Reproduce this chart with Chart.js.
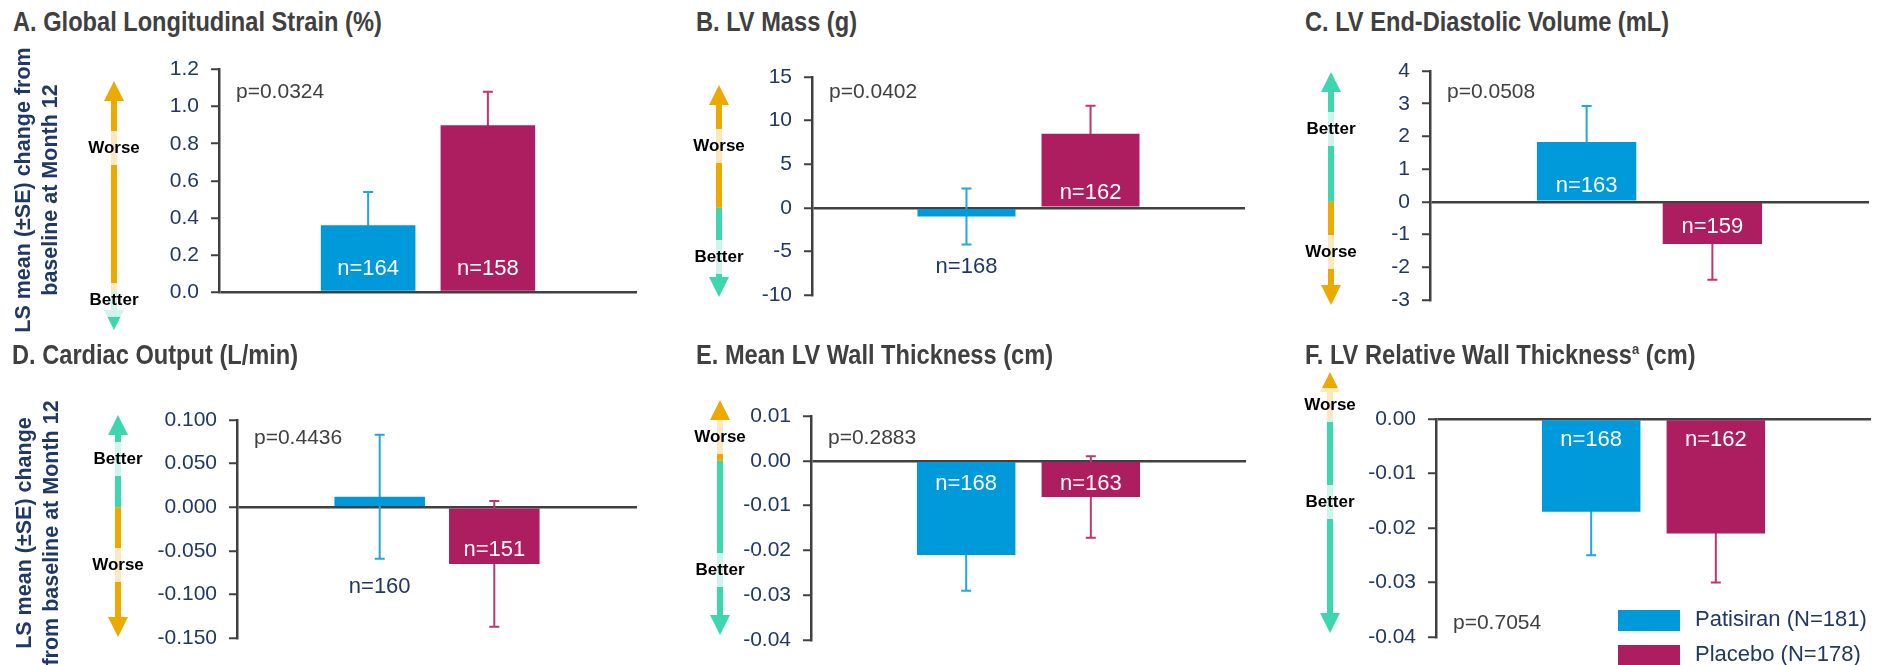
<!DOCTYPE html>
<html>
<head>
<meta charset="utf-8">
<script src="https://cdn.jsdelivr.net/npm/chart.js@4.4.1/dist/chart.umd.min.js"></script>
<style>
  body { margin: 0; background: #fff; }
  #page { position: relative; width: 1883px; height: 665px; overflow: hidden; font-family: "Liberation Sans", Arial, sans-serif; }
  .panel { position: absolute; }
  .title { position: absolute; font-weight: bold; font-size: 27px; line-height: 1; color: #404040; white-space: nowrap; transform: scaleX(0.875); transform-origin: left center; }
  .ytitle { position: absolute; font-weight: bold; font-size: 21.5px; line-height: 27px; color: #1F3864; text-align: center; white-space: nowrap; transform: rotate(-90deg); }
  .dir { position: absolute; width: 66px; height: 34px; line-height: 34px; font-weight: bold; font-size: 17px; color: #000; text-align: center; background: rgba(255,255,255,0.75); }
  .legend { position: absolute; left: 1618px; font-size: 22px; color: #1F3864; white-space: nowrap; }
  .legend span { display: inline-block; width: 62px; height: 21px; vertical-align: middle; margin-right: 15px; }
</style>
</head>
<body>
<div id="page"></div>
<script>
// --- datos ---
const grupos = ['Patisiran (N=181)', 'Placebo (N=178)'];
const titulos = ['A. Global Longitudinal Strain (%)', 'B. LV Mass (g)', 'C. LV End-Diastolic Volume (mL)',
                 'D. Cardiac Output (L/min)', 'E. Mean LV Wall Thickness (cm)', 'F. LV Relative Wall Thickness<sup style="font-size:0.55em">a</sup> (cm)'];
const patisiranMedia = [0.36, -1.0, 1.83, 0.012, -0.021, -0.017];
const patisiranSE    = [0.18, 3.2, 1.1, 0.071, 0.008, 0.008];
const placeboMedia   = [0.90, 8.5, -1.29, -0.065, -0.0081, -0.021];
const placeboSE      = [0.18, 3.2, 1.09, 0.072, 0.0091, 0.009];
const patisiranN = [164, 168, 163, 160, 168, 168];
const placeboN   = [158, 162, 159, 151, 163, 162];
const pValores = ['0.0324', '0.0402', '0.0508', '0.4436', '0.2883', '0.7054'];
const yMin  = [0, -10, -3, -0.15, -0.04, -0.04];
const yMax  = [1.2, 15, 4, 0.1, 0.01, 0];
const yPaso = [0.2, 5, 1, 0.05, 0.01, 0.01];
const yDecimales = [1, 0, 0, 3, 2, 2];
const etiquetaArriba = ['Worse', 'Worse', 'Better', 'Better', 'Worse', 'Worse'];
const etiquetaAbajo  = ['Better', 'Better', 'Worse', 'Worse', 'Better', 'Better'];

// --- colores y posiciones (px de página) ---
const COL = { pat: '#0099D9', pla: '#AD1E61', patErr: '#22A6E2', plaErr: '#BF3570',
              eje: '#404040', tick: '#1F3864', naranja: '#ECA900', verde: '#3ED6AE' };
const disenio = [
  { caja: [90, 45, 550, 290],   area: [219, 637, 67, 292],   flecha: [114, 81, 330],   dirY: [149, 301], pY: 92,  nOff: [-23, -23], tit: [13, 9] },
  { caja: [690, 45, 565, 290],  area: [812, 1245, 77, 295],  flecha: [719, 85, 297],   dirY: [147, 258], pY: 92,  nOff: [59, -15],  tit: [696, 9] },
  { caja: [1300, 45, 583, 290], area: [1430, 1869, 71, 300], flecha: [1331, 72, 305],  dirY: [130, 253], pY: 92,  nOff: [-16, 25],  tit: [1305, 9] },
  { caja: [90, 360, 550, 305],  area: [237, 637, 420, 638],  flecha: [118, 415, 637],  dirY: [460, 566], pY: 438, nOff: [80, 43],   tit: [12, 342] },
  { caja: [690, 360, 565, 305], area: [811, 1246, 416, 640], flecha: [720, 400, 635],  dirY: [438, 571], pY: 438, nOff: [23, 23],   tit: [696, 342] },
  { caja: [1300, 360, 583, 305],area: [1436, 1871, 419, 637],flecha: [1330, 372, 633], dirY: [406, 503], pY: 623, nOff: [21, 21],   tit: [1305, 342] }
];
const ANCHO_EJE = 90;
const FUENTE = '"Liberation Sans", Arial, sans-serif';

function dibujarFlecha(ctx, x, yTop, ySplit, yBot, cTop, cBot) {
  const sw = 6, hw = 10, hl = 20;
  ctx.fillStyle = cTop;
  ctx.fillRect(x - sw / 2, yTop + hl - 1, sw, ySplit - (yTop + hl - 1));
  ctx.beginPath(); ctx.moveTo(x, yTop); ctx.lineTo(x - hw, yTop + hl); ctx.lineTo(x + hw, yTop + hl); ctx.closePath(); ctx.fill();
  ctx.fillStyle = cBot;
  ctx.fillRect(x - sw / 2, ySplit, sw, (yBot - hl + 1) - ySplit);
  ctx.beginPath(); ctx.moveTo(x, yBot); ctx.lineTo(x - hw, yBot - hl); ctx.lineTo(x + hw, yBot - hl); ctx.closePath(); ctx.fill();
}

const extrasPanel = {
  id: 'extrasPanel',
  beforeDatasetsDraw(chart, args, opts) {
    // barras de error (quedan detrás de las barras)
    const i = opts.idx, ctx = chart.ctx, yS = chart.scales.y;
    const series = [[patisiranMedia[i], patisiranSE[i], COL.patErr], [placeboMedia[i], placeboSE[i], COL.plaErr]];
    ctx.save();
    series.forEach(([m, se, c], d) => {
      const x = chart.getDatasetMeta(d).data[0].x;
      const yA = yS.getPixelForValue(m + se), yB = yS.getPixelForValue(m - se);
      ctx.strokeStyle = c; ctx.lineWidth = 2;
      ctx.beginPath();
      ctx.moveTo(x, yA); ctx.lineTo(x, yB);
      ctx.moveTo(x - 5, yA); ctx.lineTo(x + 5, yA);
      ctx.moveTo(x - 5, yB); ctx.lineTo(x + 5, yB);
      ctx.stroke();
    });
    ctx.restore();
  },
  afterDatasetsDraw(chart, args, opts) {
    const i = opts.idx, L = disenio[i], ctx = chart.ctx, yS = chart.scales.y;
    const y0 = yS.getPixelForValue(0);
    const ns = [patisiranN[i], placeboN[i]];
    ctx.save();
    ctx.font = '22px ' + FUENTE;
    ctx.textAlign = 'center'; ctx.textBaseline = 'middle';
    ns.forEach((n, d) => {
      const bar = chart.getDatasetMeta(d).data[0];
      const ty = y0 + L.nOff[d];
      const dentro = (ty - y0) * (bar.y - y0) > 0 && Math.abs(ty - y0) < Math.abs(bar.y - y0);
      ctx.fillStyle = dentro ? '#fff' : COL.tick;
      ctx.fillText('n=' + n, bar.x, ty);
    });
    ctx.font = '21px ' + FUENTE;
    ctx.textAlign = 'left';
    ctx.fillStyle = '#404040';
    ctx.fillText('p=' + pValores[i], chart.chartArea.left + 17, L.pY - L.caja[1]);
    ctx.restore();
  },
  afterDraw(chart, args, opts) {
    const i = opts.idx, L = disenio[i], ctx = chart.ctx;
    const y0 = chart.scales.y.getPixelForValue(0);
    const arribaPeor = etiquetaArriba[i] === 'Worse';
    ctx.save();
    dibujarFlecha(ctx, L.flecha[0] - L.caja[0], L.flecha[1] - L.caja[1], y0, L.flecha[2] - L.caja[1],
                  arribaPeor ? COL.naranja : COL.verde, arribaPeor ? COL.verde : COL.naranja);
    ctx.restore();
  }
};

const page = document.getElementById('page');
function agregar(html, cls, css) {
  const d = document.createElement('div');
  d.className = cls; d.innerHTML = html;
  Object.assign(d.style, css);
  page.appendChild(d);
  return d;
}

disenio.forEach((L, i) => {
  const [bx, by, bw, bh] = L.caja;
  const wrap = agregar('', 'panel', { left: bx + 'px', top: by + 'px', width: bw + 'px', height: bh + 'px' });
  const cv = document.createElement('canvas');
  cv.width = bw; cv.height = bh;
  cv.style.width = bw + 'px'; cv.style.height = bh + 'px';
  wrap.appendChild(cv);

  const pad = { left: L.area[0] - bx - ANCHO_EJE, right: bx + bw - L.area[1], top: L.area[2] - by, bottom: by + bh - L.area[3] };
  const dec = yDecimales[i];

  new Chart(cv, {
    type: 'bar',
    data: {
      labels: [''],
      datasets: [
        { label: grupos[0], data: [patisiranMedia[i]], backgroundColor: COL.pat },
        { label: grupos[1], data: [placeboMedia[i]], backgroundColor: COL.pla }
      ]
    },
    options: {
      responsive: false,
      animation: false,
      layout: { padding: pad },
      datasets: { bar: { categoryPercentage: 0.573, barPercentage: 0.79 } },
      plugins: { legend: { display: false }, tooltip: { enabled: false }, extrasPanel: { idx: i } },
      scales: {
        x: { display: false },
        y: {
          min: yMin[i], max: yMax[i], z: 1,
          afterFit: s => { s.width = ANCHO_EJE; },
          border: { display: true, color: COL.eje, width: 2.5 },
          grid: {
            color: c => (c.tick && Math.abs(c.tick.value) < 1e-9) ? COL.eje : 'rgba(0,0,0,0)',
            lineWidth: 2.5, tickColor: COL.eje, tickLength: 8, tickWidth: 2
          },
          ticks: { stepSize: yPaso[i], padding: 12, color: COL.tick, font: { family: FUENTE, size: 21 },
                   callback: v => Number(v).toFixed(dec) }
        }
      }
    },
    plugins: [extrasPanel]
  });

  agregar(titulos[i], 'title', { left: L.tit[0] + 'px', top: L.tit[1] + 'px' });
  agregar(etiquetaArriba[i], 'dir', { left: (L.flecha[0] - 33) + 'px', top: (L.dirY[0] - 18) + 'px' });
  agregar(etiquetaAbajo[i], 'dir', { left: (L.flecha[0] - 33) + 'px', top: (L.dirY[1] - 18) + 'px' });
});

// títulos del eje Y
agregar('LS mean (±SE) change from<br>baseline at Month 12', 'ytitle', { left: (37 - 160) + 'px', top: (190 - 27) + 'px', width: '320px', height: '54px' });
agregar('LS mean (±SE) change<br>from baseline at Month 12', 'ytitle', { left: (38 - 160) + 'px', top: (533 - 27) + 'px', width: '320px', height: '54px' });

// leyenda
agregar('<span style="background:' + COL.pat + '"></span>' + grupos[0], 'legend', { top: '606px' });
agregar('<span style="background:' + COL.pla + '"></span>' + grupos[1], 'legend', { top: '641px' });
</script>
</body>
</html>
